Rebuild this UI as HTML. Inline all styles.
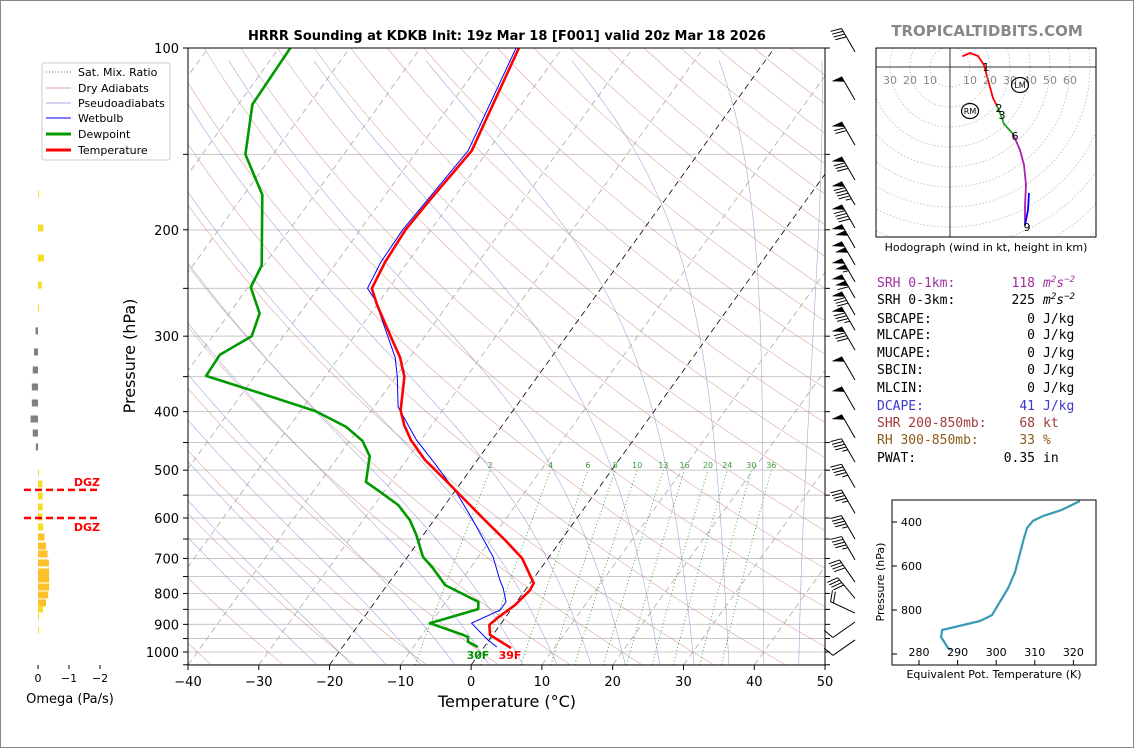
<!DOCTYPE html>
<html><head><meta charset="utf-8"><style>
html,body{margin:0;padding:0;background:#fff;}
svg{display:block;font-family:"DejaVu Sans","Liberation Sans",sans-serif;}
.mono{font-family:"DejaVu Sans Mono","Liberation Mono",monospace;font-size:13px;}
</style></head><body>
<svg id="root" width="1134" height="748" viewBox="0 0 1134 748" xmlns="http://www.w3.org/2000/svg">
<defs>
<clipPath id="plotClip"><rect x="188" y="48" width="637" height="617"/></clipPath>
<clipPath id="hodoClip"><rect x="876" y="48" width="220" height="189"/></clipPath>
<clipPath id="theClip"><rect x="892" y="500" width="204" height="165"/></clipPath>
</defs>
<rect x="0.5" y="0.5" width="1133" height="747" fill="#fff" stroke="#888"/>
<text x="507" y="40" text-anchor="middle" font-size="13" font-weight="bold">HRRR Sounding at KDKB Init: 19z Mar 18 [F001] valid 20z Mar 18 2026</text>
<text x="987" y="36" text-anchor="middle" font-size="15" font-weight="bold" fill="#888">TROPICALTIDBITS.COM</text>

<g id="bg" clip-path="url(#plotClip)"></g>
<g id="series" clip-path="url(#plotClip)"></g>
<g id="mrlabels"></g>
<rect x="188" y="48" width="637" height="617" fill="none" stroke="#000" stroke-width="1"/>
<g id="axes"></g>
<text x="478" y="659" text-anchor="middle" font-size="11" font-weight="bold" fill="#009900">30F</text>
<text x="510" y="659" text-anchor="middle" font-size="11" font-weight="bold" fill="#ff0000">39F</text>
<text x="507" y="707" text-anchor="middle" font-size="16">Temperature (°C)</text>
<text transform="translate(135,356) rotate(-90)" text-anchor="middle" font-size="16">Pressure (hPa)</text>

<g>
<rect x="42" y="63" width="128" height="97" rx="2" fill="#fff" stroke="#ccc"/>
<g font-size="11">
<line x1="46" y1="72" x2="71" y2="72" stroke="#3a9a3a" stroke-dasharray="1,2"/>
<text x="78" y="76">Sat. Mix. Ratio</text>
<line x1="46" y1="88" x2="71" y2="88" stroke="#e0a0a0"/>
<text x="78" y="92">Dry Adiabats</text>
<line x1="46" y1="103" x2="71" y2="103" stroke="#a8a8e0"/>
<text x="78" y="107">Pseudoadiabats</text>
<line x1="46" y1="118" x2="71" y2="118" stroke="#0000ff"/>
<text x="78" y="122">Wetbulb</text>
<line x1="46" y1="134" x2="71" y2="134" stroke="#009900" stroke-width="3"/>
<text x="78" y="138">Dewpoint</text>
<line x1="46" y1="150" x2="71" y2="150" stroke="#ff0000" stroke-width="3"/>
<text x="78" y="154">Temperature</text>
</g></g>

<g id="omega"></g>
<g id="barbs"></g>
<g id="hodo"></g>
<text x="986" y="251" text-anchor="middle" font-size="11">Hodograph (wind in kt, height in km)</text>

<g class="mono">
<g fill="#a030a0"><text x="877" y="287">SRH 0-1km:</text><text x="1035" y="287" text-anchor="end">118</text><text x="1043" y="287" font-style="italic">m<tspan font-size="9" dy="-5">2</tspan><tspan dy="5">s</tspan><tspan font-size="9" dy="-5">−2</tspan></text></g>
<g fill="#000"><text x="877" y="304">SRH 0-3km:</text><text x="1035" y="304" text-anchor="end">225</text><text x="1043" y="304" font-style="italic">m<tspan font-size="9" dy="-5">2</tspan><tspan dy="5">s</tspan><tspan font-size="9" dy="-5">−2</tspan></text>
<text x="877" y="323">SBCAPE:</text><text x="1035" y="323" text-anchor="end">0</text><text x="1043" y="323">J/kg</text>
<text x="877" y="339">MLCAPE:</text><text x="1035" y="339" text-anchor="end">0</text><text x="1043" y="339">J/kg</text>
<text x="877" y="357">MUCAPE:</text><text x="1035" y="357" text-anchor="end">0</text><text x="1043" y="357">J/kg</text>
<text x="877" y="374">SBCIN:</text><text x="1035" y="374" text-anchor="end">0</text><text x="1043" y="374">J/kg</text>
<text x="877" y="392">MLCIN:</text><text x="1035" y="392" text-anchor="end">0</text><text x="1043" y="392">J/kg</text></g>
<g fill="#3a3acc"><text x="877" y="410">DCAPE:</text><text x="1035" y="410" text-anchor="end">41</text><text x="1043" y="410">J/kg</text></g>
<g fill="#a03a3a"><text x="877" y="427">SHR 200-850mb:</text><text x="1035" y="427" text-anchor="end">68</text><text x="1043" y="427">kt</text></g>
<g fill="#8b5a1a"><text x="877" y="444">RH 300-850mb:</text><text x="1035" y="444" text-anchor="end">33</text><text x="1043" y="444">%</text></g>
<g fill="#000"><text x="877" y="462">PWAT:</text><text x="1035" y="462" text-anchor="end">0.35</text><text x="1043" y="462">in</text></g>
</g>

<g id="thetae"></g>
</svg>
<script>
// ---- profile data ----
const tempP = [985,937,902,879,836,790,769,699,653,605,560,519,481,446,421,398,350,325,304,266,250,226,200,179,148,100];
const tempT = [3.9,-0.4,-1.5,-1.1,0.1,0.7,0.5,-3.7,-7.9,-12.8,-17.7,-22.5,-27.4,-31.4,-33.9,-35.9,-38.8,-41.4,-44.3,-50.0,-52.4,-53.2,-53.6,-53.2,-52.3,-56.1];
const dewP = [981,962,944,937,896,849,826,775,726,696,640,605,571,543,523,474,447,424,399,368,349,322,300,275,249,229,175,150,124,100];
const dewT = [-0.9,-2.8,-3.3,-4.2,-10.1,-4.7,-5.4,-11.8,-15.3,-17.8,-21.0,-23.4,-26.6,-30.5,-33.5,-35.6,-38.2,-41.9,-47.9,-59.3,-66.9,-67.1,-64.5,-65.7,-69.6,-70.3,-77.4,-83.9,-88.0,-88.4];
const wbP = [981,955,896,852,826,784,760,696,605,546,487,446,393,350,325,261,250,226,200,148,100];
const wbT = [1.8,-0.2,-4.2,-1.5,-1.5,-3.3,-4.6,-7.9,-14.5,-19.5,-25.7,-30.6,-36.6,-39.8,-42.1,-50.8,-53.0,-53.8,-54.0,-52.8,-56.5];
const mixRatios = [2,4,6,8,10,13,16,20,24,30,36];
const pressureTicks = [100,200,300,400,500,600,700,800,900,1000];
const tempTicks = [-40,-30,-20,-10,0,10,20,30,40,50];
// ---- wind barbs ----
const barbP = [101.5,121.9,144.8,165.5,181.9,198.6,214.2,228.6,243.9,259.4,276.7,293.3,316.4,354.5,397.5,442.1,484.8,534.3,589.4,649.9,704,766,815,862,892,955];
const barbSpd = [40,50,70,80,95,90,100,100,105,110,80,85,80,50,50,50,45,45,45,45,45,40,40,20,10,10];
const barbDir = [330,330,330,330,330,330,330,330,330,330,330,330,330,330,330,330,330,330,330,330,330,325,320,295,235,235];
// ---- omega ----
const omegaP = [174.5,198.6,222.7,246.9,269.5,294,318.6,341.3,364.1,387,411.4,434,457.6,505.3,527,551.6,575.3,597.5,620.8,644.9,667.4,688,712.1,737,757,780.5,804.6,829.5,848.7,875,919.6];
const omegaV = [-0.03,-0.17,-0.19,-0.12,-0.02,0.08,0.13,0.17,0.2,0.2,0.24,0.17,0.07,-0.02,-0.14,-0.15,-0.15,-0.14,-0.17,-0.21,-0.26,-0.31,-0.35,-0.36,-0.36,-0.36,-0.33,-0.26,-0.16,-0.02,-0.02];
const omegaTicks = [0,-1,-2];
const dgzP = [539,600];
// ---- hodograph (kt) ----
const hodoU = [6.5,10,14,17,19,21.5,23.5,25,27,31.5,35,37,38,37.5,37.5];
const hodoV = [5.5,7,5.5,1,-6.5,-15.5,-19.5,-23,-28.5,-33.5,-41.5,-49,-59,-69,-79];
const hodoSeg = ['r','r','r','r','r','r','r','g','g','g','m','m','m','m','m'];
const hodoBlueU = [37.5,39,39.5];
const hodoBlueV = [-79,-71.5,-63];
const hodoLabels = ['1','2','3','6','9'];
const hodoLabelIdx = [3,6,7,9,14];
const rmUV = [10,-22];
const lmUV = [35,-9];
const ringTicks = [10,20,30,40,50,60];
// ---- theta-e ----
const thetaE = [321.7,317.0,312.1,309.5,308.0,307.2,304.9,303.1,298.9,295.8,286.0,285.7,286.7,287.5,288.5];
const thetaEP = [304.5,345,373,395,427,473,627,700,823,850,891,923,950,973,982];
const thetaXTicks = [280,290,300,310,320];
const thetaYTicks = [400,600,800,1000];

const NS='http://www.w3.org/2000/svg';
function mk(tag,attrs,parent){const e=document.createElementNS(NS,tag);for(const k in attrs)e.setAttribute(k,attrs[k]);parent.appendChild(e);return e;}
function yOf(p){return 48+604*(Math.log10(p)-2);}
function xOf(T,p){return 188+(T+40)*7.078+0.721*(665-yOf(p));}
function pathFrom(pts){return pts.map((q,i)=>(i?'L':'M')+q[0].toFixed(1)+' '+q[1].toFixed(1)).join(' ');}

const bg=document.getElementById('bg');
for(let p=100;p<=1050;p+=50){
  const l=mk('line',{x1:188,x2:825,y1:yOf(p),y2:yOf(p),stroke:'#c8c8c8','stroke-width':1},bg);
  
  
}
for(let th=233.15;th<=533.15;th+=10){
  const pts=[];for(let p=1050;p>=100;p-=10){pts.push([xOf(th*Math.pow(p/1000,0.2857)-273.15,p),yOf(p)]);}
  const e=mk('path',{d:pathFrom(pts),fill:'none',stroke:'#d08080','stroke-width':0.6,'stroke-opacity':0.7},bg);
  
  
}
function es(Tc){return 6.112*Math.exp(17.67*Tc/(Tc+243.5));}
function dTdp(T,p){const Rd=287,cp=1005,Lv=2.5e6,eps=0.622;const e=es(T-273.15);const rs=eps*e/(p-e);
  return (Rd*T+Lv*rs)/(p*(cp+Lv*Lv*rs*eps/(Rd*T*T)));}
for(let t0=-25;t0<=45;t0+=5){
  let Td=t0+273.15;const pts=[];
  for(let p=1000;p<1050;p+=5){Td+=dTdp(Td,p)*5;}
  let T2=Td;for(let p=1050;p>100;p-=5){pts.push([xOf(T2-273.15,p),yOf(p)]);T2-=dTdp(T2,p)*5;}
  const e=mk('path',{d:pathFrom(pts),fill:'none',stroke:'#9090d8','stroke-width':0.6,'stroke-opacity':0.8},bg);
  
  
}
for(let t=-130;t<=50;t+=10){
  const blk=(t===0||t===-20);
  const e=mk('line',{x1:xOf(t,1050),y1:yOf(1050),x2:xOf(t,100),y2:yOf(100),stroke:blk?'#000':'#aaa','stroke-width':0.8,'stroke-dasharray':'6,4'},bg);
  
  
}
const mrl=document.getElementById('mrlabels');
function tdFromW(w,p){const e=w*p/(622+w);const l=Math.log(e/6.112);return 243.5*l/(17.67-l);}
mixRatios.forEach(w=>{
  const pts=[];for(let p=1050;p>=500;p-=10)pts.push([xOf(tdFromW(w,p),p),yOf(p)]);
  const e=mk('path',{d:pathFrom(pts),fill:'none',stroke:'#3a9a3a','stroke-width':0.9,'stroke-dasharray':'1,2.5'},bg);
  
  
  const t=mk('text',{x:xOf(tdFromW(w,500),500),y:468,'text-anchor':'middle','font-size':8,fill:'#3a9a3a'},mrl);
  t.textContent=String(w);
  
  
});
const ser=document.getElementById('series');
function profile(P,T,color,w,name){
  const pts=P.map((p,i)=>[xOf(T[i],p),yOf(p)]);
  const e=mk('path',{d:pathFrom(pts),fill:'none',stroke:color,'stroke-width':w,'stroke-linejoin':'round'},ser);
  
  
}
profile(wbP,wbT,'#0000ff',1,'wetbulb-line');
profile(dewP,dewT,'#009900',2.6,'dewpoint-line');
profile(tempP,tempT,'#ff0000',2.6,'temperature-line');

const ax=document.getElementById('axes');
for(let p=100;p<=1050;p+=50){
  const y=yOf(p);
  const a=mk('line',{x1:183,x2:188,y1:y,y2:y,stroke:'#000'},ax);
  
  
  const b=mk('line',{x1:825,x2:830,y1:y,y2:y,stroke:'#000'},ax);
  
  
}
pressureTicks.forEach(p=>{
  const t=mk('text',{x:179,y:yOf(p)+5,'text-anchor':'end','font-size':13},ax);
  t.textContent=String(p);
  
  
});
tempTicks.forEach(T=>{
  const x=188+(T+40)*7.078;
  const l=mk('line',{x1:x,x2:x,y1:665,y2:670,stroke:'#000'},ax);
  
  
  const t=mk('text',{x:x,y:686,'text-anchor':'middle','font-size':13},ax);
  t.textContent=T<0?'\u2212'+Math.abs(T):String(T);
  
  
});

const om=document.getElementById('omega');
function ox(w){return 38-w*31;}
omegaP.forEach((p,i)=>{
  const v=omegaV[i];const x0=ox(0),x1=ox(v);
  const big=Math.abs(v)>0.2;
  const r=mk('rect',{x:Math.min(x0,x1),y:yOf(p)-3.5,width:Math.max(Math.abs(x1-x0),1),height:7,fill:v>0?'#808080':(big?'#fcc02a':'#f8dc20')},om);
  
  
});
dgzP.forEach((p,i)=>{
  const l=mk('line',{x1:24,x2:100,y1:yOf(p),y2:yOf(p),stroke:'#ff0000','stroke-width':2.5,'stroke-dasharray':'7,4'},om);
  
  
  const t=mk('text',{x:100,y:i===0?yOf(p)-4:yOf(p)+13,'text-anchor':'end','font-size':11,'font-weight':'bold',fill:'#ff0000'},om);
  t.textContent='DGZ';
  
  
});
omegaTicks.forEach(w=>{
  const l=mk('line',{x1:ox(w),x2:ox(w),y1:665,y2:669,stroke:'#000'},om);
  
  
  const t=mk('text',{x:ox(w),y:682,'text-anchor':'middle','font-size':11},om);
  t.textContent=w<0?'\u2212'+Math.abs(w):String(w);
  
  
});
const otl=mk('text',{x:70,y:703,'text-anchor':'middle','font-size':13},om);
otl.textContent='Omega (Pa/s)';



// wind barbs
const bb=document.getElementById('barbs');
barbP.forEach((p,i)=>{
  const ax0=855,ay0=yOf(p);
  const a=barbDir[i]*Math.PI/180;
  const ux=Math.sin(a),uy=-Math.cos(a);
  const L=27;
  const tx=ax0+ux*L,ty=ay0+uy*L;
  const side=barbDir[i]>300?-1:1;
  const px=-uy*side,py=ux*side;
  const g=mk('g',{},bb);
  
  
  mk('line',{x1:ax0,y1:ay0,x2:tx,y2:ty,stroke:'#000','stroke-width':1},g);
  let s=Math.round(barbSpd[i]/5)*5;let pos=0;const fl=11,sp=3.2;
  while(s>=50){const bx=tx-ux*pos,by=ty-uy*pos;
    mk('polygon',{points:`${bx},${by} ${bx+px*fl+ux*1},${by+py*fl+uy*1} ${bx-ux*6},${by-uy*6}`,fill:'#000'},g);pos+=7;s-=50;}
  while(s>=10){const bx=tx-ux*pos,by=ty-uy*pos;
    mk('line',{x1:bx,y1:by,x2:bx+px*fl+ux*3,y2:by+py*fl+uy*3,stroke:'#000','stroke-width':1},g);pos+=sp;s-=10;}
  if(s>=5){if(pos===0)pos=sp;const bx=tx-ux*pos,by=ty-uy*pos;
    mk('line',{x1:bx,y1:by,x2:bx+px*fl/2+ux*1.5,y2:by+py*fl/2+uy*1.5,stroke:'#000','stroke-width':1},g);}
});

// hodograph
const ho=document.getElementById('hodo');
function hx(u){return 950+2*u;}function hy(v){return 67-2*v;}
const hclip=mk('g',{'clip-path':'url(#hodoClip)'},ho);
for(let r=10;r<=140;r+=10){
  const c=mk('circle',{cx:hx(0),cy:hy(0),r:2*r,fill:'none',stroke:'#bbb','stroke-width':0.8,'stroke-dasharray':'1.5,2'},hclip);
  
  
}
mk('line',{x1:876,x2:1096,y1:hy(0),y2:hy(0),stroke:'#333','stroke-width':1},hclip);
mk('line',{x1:hx(0),x2:hx(0),y1:48,y2:237,stroke:'#333','stroke-width':1},hclip);
ringTicks.forEach(r=>{
  const t=mk('text',{x:hx(r),y:84,'text-anchor':'middle','font-size':11,fill:'#888'},ho);
  t.textContent=String(r);
  
  
  if(r<=30){const t2=mk('text',{x:hx(-r),y:84,'text-anchor':'middle','font-size':11,fill:'#888'},ho);
  t2.textContent=String(r);
  
  }
});
const segCol={r:'#ff0000',g:'#22a022',m:'#b020b0'};
for(let i=0;i<hodoU.length-1;i++){
  const l=mk('line',{x1:hx(hodoU[i]),y1:hy(hodoV[i]),x2:hx(hodoU[i+1]),y2:hy(hodoV[i+1]),stroke:segCol[hodoSeg[i+1]],'stroke-width':1.8,'stroke-linecap':'round'},hclip);
  
  
}
const hb=mk('path',{d:pathFrom(hodoBlueU.map((u,i)=>[hx(u),hy(hodoBlueV[i])])),fill:'none',stroke:'#0000ff','stroke-width':1.8},hclip);


hodoLabels.forEach((s,i)=>{
  const k=hodoLabelIdx[i];
  const t=mk('text',{x:hx(hodoU[k])+2,y:hy(hodoV[k])+6,'text-anchor':'middle','font-size':11},ho);
  t.textContent=s;
  
  
});
[[rmUV,'RM'],[lmUV,'LM']].forEach(([uv,s])=>{
  const c=mk('ellipse',{cx:hx(uv[0]),cy:hy(uv[1]),rx:8.5,ry:7.5,fill:'none',stroke:'#000','stroke-width':1.2},ho);
  
  
  const t=mk('text',{x:hx(uv[0]),y:hy(uv[1])+3,'text-anchor':'middle','font-size':8},ho);
  t.textContent=s;
  
  
});
const hf=mk('rect',{x:876,y:48,width:220,height:189,fill:'none',stroke:'#000','stroke-width':1},ho);



// theta-e panel
const te=document.getElementById('thetae');
function ex(th){return 919+(th-280)*3.86;}function ey(p){return 522+(p-400)*0.22;}
const tec=mk('g',{'clip-path':'url(#theClip)'},te);
const tl=mk('path',{d:pathFrom(thetaE.map((t,i)=>[ex(t),ey(thetaEP[i])])),fill:'none',stroke:'#3a9ab5','stroke-width':2.2,'stroke-linejoin':'round'},tec);


const tf=mk('rect',{x:892,y:500,width:204,height:165,fill:'none',stroke:'#000','stroke-width':1},te);


thetaXTicks.forEach(t=>{
  const l=mk('line',{x1:ex(t),x2:ex(t),y1:665,y2:660,stroke:'#000'},te);
  
  
  const s=mk('text',{x:ex(t),y:656,'text-anchor':'middle','font-size':11},te);
  s.textContent=String(t);
  
  
});
thetaYTicks.forEach(p=>{
  const l=mk('line',{x1:892,x2:897,y1:ey(p),y2:ey(p),stroke:'#000'},te);
  
  
  if(p<1000){const s=mk('text',{x:901,y:ey(p)+4,'font-size':11},te);
  s.textContent=String(p);
  
  }
});
const tx1=mk('text',{x:994,y:678,'text-anchor':'middle','font-size':11},te);
tx1.textContent='Equivalent Pot. Temperature (K)';


const ty1=mk('text',{transform:'translate(884,582) rotate(-90)','text-anchor':'middle','font-size':11},te);
ty1.textContent='Pressure (hPa)';


</script>
</body></html>
